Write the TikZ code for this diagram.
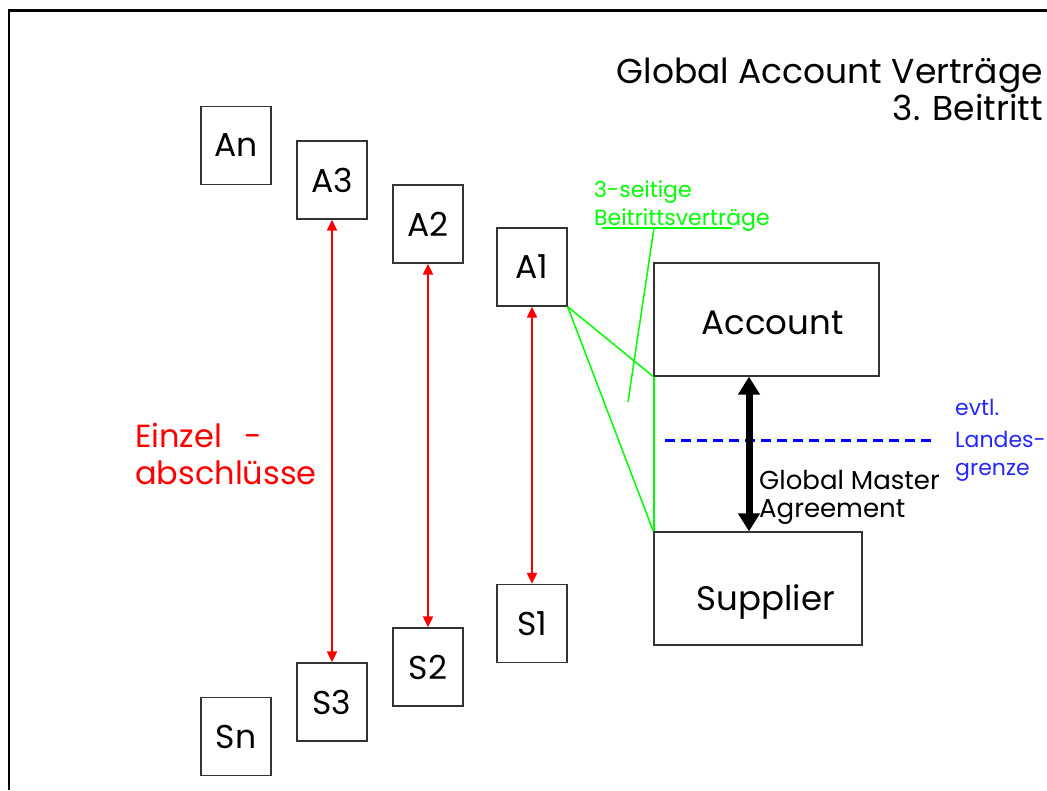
\documentclass[tikz,border=0pt]{standalone}
\usepackage{fontspec}
\setmainfont{Poppins}
\usetikzlibrary{positioning, arrows.meta}

\begin{document}
\begin{tikzpicture}[x=1pt, y=-1pt,
    box/.style={draw=black!80, line width=1.3pt, minimum width=70pt, minimum height=78pt, inner sep=0pt, font=\fontsize{33}{33}\selectfont},
    bigbox/.style={draw=black!80, line width=1.3pt, minimum height=113pt, inner sep=0pt, font=\fontsize{34}{34}\selectfont},
    einzel/.style={red, line width=2pt, {Triangle[width=10pt,length=11pt]}-{Triangle[width=10pt,length=11pt]}},
    gma/.style={line width=7pt, {Triangle[width=21pt,length=18pt]}-{Triangle[width=21pt,length=18pt]}},
    beitritt/.style={green, line width=1.5pt},
    txt/.style={anchor=base west, inner sep=0pt}]
    \useasboundingbox (0,0) rectangle (1047,790);
    \draw[line width=2.5pt] (9,790) -- (9,10.5) -- (1047,10.5);

    % title
    \node[anchor=base east, inner sep=0pt, font=\fontsize{34.5}{34.5}\selectfont] (t1) at (1043,83) {Global Account Verträge};
    \node[anchor=base east, inner sep=0pt, font=\fontsize{34.5}{34.5}\selectfont] (t2) at (1043,120) {3. Beitritt};

    % accounts and suppliers
    \node[box] (An) at (236,145.5) {An};
    \node[box] (A3) at (332,180) {A3};
    \node[box] (A2) at (428,224) {A2};
    \node[box] (A1) at (532,267) {A1};
    \node[box] (S1) at (532,623.5) {S1};
    \node[box] (S2) at (428,667) {S2};
    \node[box] (S3) at (332,702) {S3};
    \node[box] (Sn) at (236,736.5) {Sn};

    \node[bigbox, minimum width=225pt, text height=30pt] (acc) at (766.5,319.5) {\hspace{12pt}Account};
    \node[bigbox, minimum width=208pt, text height=52pt] (sup) at (758,588.5) {\hspace{16pt}Supplier};

    % Einzelabschluesse
    \draw[einzel] (A3) -- (S3);
    \draw[einzel] (A2) -- (S2);
    \draw[einzel] (A1) -- (S1);
    \node[txt, red, font=\fontsize{32}{32}\selectfont] (ez1) at (135,447) {Einzel\hspace{0.7em}-};
    \node[txt, red, font=\fontsize{32}{32}\selectfont] (ez2) at (135,484) {abschlüsse};

    % 3-seitige Vertraege
    \draw[beitritt] (A1.south east) -- (acc.south west);
    \draw[beitritt] (A1.south east) -- (sup.north west);
    \draw[beitritt, line width=1.8pt] ([xshift=0.5pt]acc.south west) -- ([xshift=0.5pt]sup.north west);
    \node[txt, green, font=\fontsize{22}{22}\selectfont] (bt1) at (594,197) {3-seitige};
    \node[txt, green, font=\fontsize{22}{22}\selectfont] (bt2) at (594,225) {Beitrittsverträge};
    \coordinate (ul1) at (602,228);
    \coordinate (ul2) at (732,228);
    \coordinate (ulp) at (654,228);
    \coordinate (tip) at (628,402);
    \draw[beitritt] (ul1) -- (ul2);
    \draw[beitritt] (ulp) -- (tip);

    % Landesgrenze
    \coordinate (lg1) at (665,440);
    \coordinate (lg2) at (937,440);
    \draw[blue, line width=3pt, dash pattern=on 10pt off 6pt] (lg1) -- (lg2);
    \node[txt, blue!85!white, font=\fontsize{22}{22}\selectfont] (ev1) at (955,415) {evtl.};
    \node[txt, blue!85!white, font=\fontsize{22}{22}\selectfont] (ev2) at (955,447) {Landes-};
    \node[txt, blue!85!white, font=\fontsize{22}{22}\selectfont] (ev3) at (955,475) {grenze};

    % Global Master Agreement
    \draw[gma] ([xshift=-17.5pt]acc.south) -- ([xshift=-9pt]sup.north);
    \node[txt, font=\fontsize{26}{26}\selectfont] (gm1) at (759,489) {Global Master};
    \node[txt, font=\fontsize{26}{26}\selectfont] (gm2) at (759,517) {Agreement};
\end{tikzpicture}
\end{document}
